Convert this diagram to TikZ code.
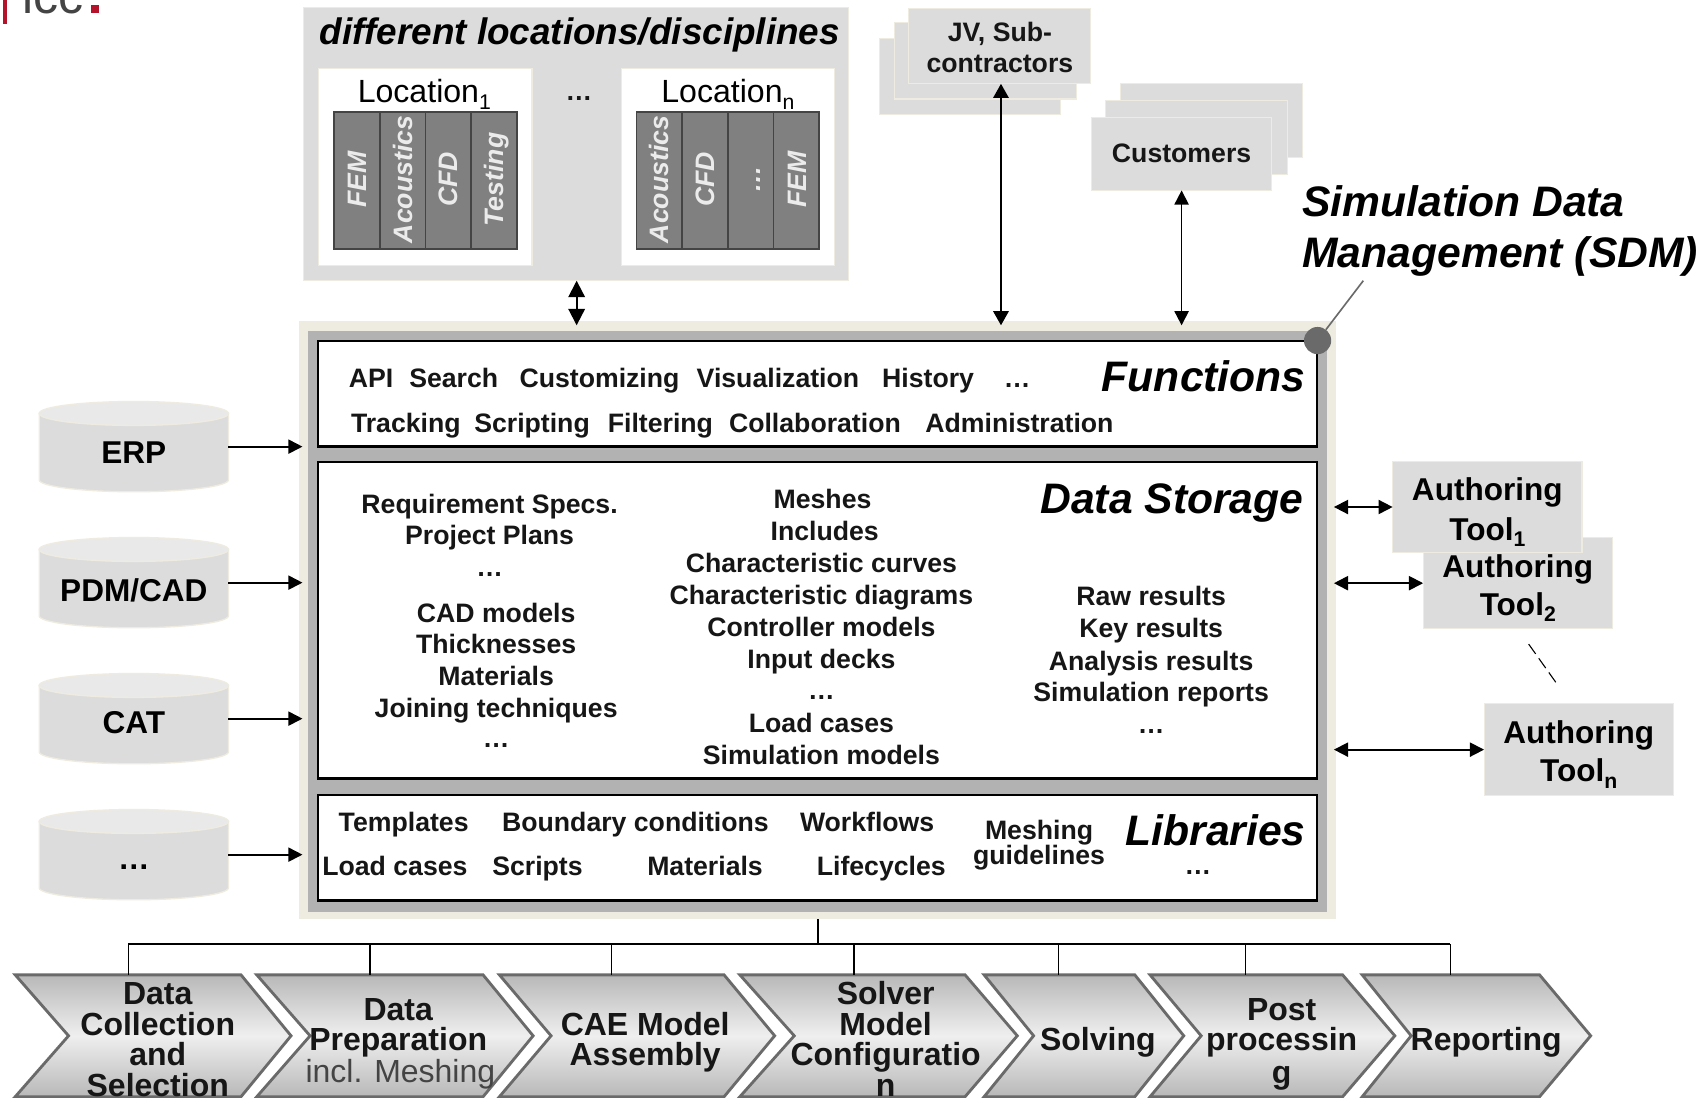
\documentclass[tikz,border=0pt]{standalone}
\usepackage{fontspec}
\setmainfont{Liberation Sans}
\usetikzlibrary{arrows.meta,calc}
\definecolor{beige}{HTML}{EEECE1}
\definecolor{boxgrey}{HTML}{DCDCDC}
\definecolor{lightgrey}{HTML}{E9E9E9}
\definecolor{frame}{HTML}{B2B2B2}
\definecolor{inktext}{HTML}{161616}
\definecolor{colgrey}{HTML}{808080}
\definecolor{coledge}{HTML}{444444}
\definecolor{chevedge}{HTML}{6A6A6A}
\definecolor{chevdark}{HTML}{B8B8B8}
\definecolor{chevlight}{HTML}{EFEFEF}
\definecolor{logored}{HTML}{B5132B}
\definecolor{logogrey}{HTML}{444444}
\newcommand{\subs}[1]{\raisebox{-6pt}{\fontsize{19.5}{19.5}\selectfont #1}}
\tikzset{
  x=1pt,y=-1pt,
  every node/.style={inner sep=0pt,outer sep=0pt,align=center},
  bx/.style={draw=beige,line width=1pt,fill=boxgrey,minimum width=#1},
  tb/.style={font=\fontsize{24.5}{24.5}\selectfont\bfseries,text=inktext,text height=17.6pt,text depth=0pt},
  tm/.style={font=\fontsize{29}{29}\selectfont\bfseries,text=black,text height=20.8pt,text depth=0pt},
  th/.style={font=\fontsize{39.2}{39.2}\selectfont\bfseries\itshape,text=black,text height=28pt,text depth=0pt},
  tl/.style={font=\fontsize{29.5}{29.5}\selectfont,text=black,text height=21pt,text depth=0pt},
  tcol/.style={font=\fontsize{24.5}{24.5}\selectfont\bfseries\itshape,text=white!92!black,text height=17.6pt,text depth=0pt,rotate=90},
  tchev/.style={font=\fontsize{29.4}{29.4}\selectfont\bfseries,text=inktext,text height=21pt,text depth=0pt},
  tchevr/.style={font=\fontsize{29.4}{29.4}\selectfont,text=logogrey,text height=21pt,text depth=0pt},
  arr/.style={-{Triangle[length=13pt,width=13pt]},line width=1.6pt,black},
  dbl/.style={{Triangle[length=13pt,width=13pt]}-{Triangle[length=13pt,width=13pt]},line width=1.6pt,black},
  dblbig/.style={{Triangle[length=15pt,width=15pt]}-{Triangle[length=15pt,width=15pt]},line width=1.8pt,black},
  dblfat/.style={{Triangle[length=13pt,width=14pt]}-{Triangle[length=13pt,width=14pt]},line width=2.2pt,black},
  bus/.style={line width=1.9pt,black},
  colbar/.style={draw=coledge,line width=1.6pt,fill=colgrey},
  chev/.style={draw=chevedge,line width=2.6pt,top color=chevdark,bottom color=chevdark,middle color=chevlight},
  inner box/.style={draw=black,line width=2.2pt,fill=white},
}
\newcommand{\cyl}[4]{% name, top y, label y, label
  \fill[boxgrey,draw=beige,line width=1.2pt] (36,#2+11) -- (36,#2+72) arc[start angle=180,end angle=0,x radius=87,y radius=11] -- (210,#2+11) -- cycle;
  \fill[lightgrey,draw=beige,line width=1.2pt] (123,#2+11) ellipse[x radius=87,y radius=11];
  \node[rectangle,minimum width=174pt,minimum height=83pt] (#1) at (123,#2+41.5) {};
  \node[tm] (#1t) at (123,#3) {#4};
}
\newcommand{\chevron}[6]{% name, left, notch, right, tip, top-connection x
  \path[chev] (#2,896) -- (#4,896) -- (#5,952) -- (#4,1008) -- (#2,1008) -- (#3,952) -- cycle;
  \coordinate (#1) at (#6,896);
}
\begin{document}
\begin{tikzpicture}
\useasboundingbox (0,0) rectangle (1568,1009);
\fill[white] (0,0) rectangle (1568,1009);

% logo
\begin{scope}
\clip (0,0) rectangle (130,25);
\fill[logored] (3,0) rectangle (6,22);
\node[anchor=base west,font=\fontsize{46}{46}\selectfont,text=logogrey] (logo) at (21,12) {icc};
\fill[logored] (84,5) rectangle (91,12);
\end{scope}

% locations
\node[bx=501pt,minimum height=251pt] (topbox) at (529.5,132.5) {};
\node[th,font=\fontsize{33.9}{33.9}\selectfont\bfseries\itshape,text height=25pt] (toptitle) at (533,28) {different locations/disciplines};
\node[rectangle,fill=white,draw=beige,line width=1.2pt,minimum width=196pt,minimum height=181pt] (loc1) at (391,153.5) {};
\node[rectangle,fill=white,draw=beige,line width=1.2pt,minimum width=196pt,minimum height=181pt] (locn) at (669,153.5) {};
\node[tl] (loc1t) at (390,84) {Location\subs{1}};
\node[tl] (locnt) at (669,84) {Location\subs{n}};
\node[tb] (locdots) at (532,84) {…};
\foreach \i/\x/\t in {a/307/FEM,b/349/Acoustics,c/391/CFD,d/433/Testing}{
  \node[colbar,minimum width=42pt,minimum height=126pt] (col\i) at (\x+21,166) {};
  \node[tcol] (col\i t) at (\x+21,165) {\t};
}
\foreach \i/\x/\t in {e/585/Acoustics,f/627/CFD,g/669/…,h/711/FEM}{
  \node[colbar,minimum width=42pt,minimum height=126pt] (col\i) at (\x+21,166) {};
  \node[tcol] (col\i t) at (\x+21,165) {\t};
}

% partners
\foreach \n/\x/\y in {jvc/808/35,jvb/822/21}{
  \node[bx=167pt,minimum height=70pt,anchor=north west] (\n) at (\x,\y) {};
}
\node[bx=167pt,minimum height=69pt,anchor=north west] (jv) at (835,8) {};
\node[tb] (jvt1) at (919,29) {JV, Sub-};
\node[tb] (jvt2) at (919,58) {contractors};
\foreach \n/\x/\y in {cuc/1030/77,cub/1016/92}{
  \node[bx=167pt,minimum height=68pt,anchor=north west] (\n) at (\x,\y) {};
}
\node[bx=166pt,minimum height=67pt,anchor=north west] (cust) at (1003,108) {};
\node[tb] (custt) at (1086,141) {Customers};

% SDM title
\node[th,anchor=west] (sdm1) at (1197,185) {Simulation Data};
\node[th,anchor=west] (sdm2) at (1197,232) {Management (SDM)};

% SDM frame
\node[rectangle,fill=beige,minimum width=953pt,minimum height=550pt] (outer) at (751.5,570) {};
\node[rectangle,fill=frame,minimum width=937pt,minimum height=534pt] (frm) at (751.5,571) {};
\node[inner box,minimum width=918pt,minimum height=97pt] (funcs) at (751.5,362) {};
\node[inner box,minimum width=918pt,minimum height=291pt] (store) at (751.5,570) {};
\node[inner box,minimum width=918pt,minimum height=97pt] (libs) at (751.5,779) {};
\coordinate (sdmtip) at (1253,258);
\node[circle,fill=chevedge,minimum size=25pt] (dot) at (1211,313) {};
\draw[chevedge,line width=1.5pt] (dot) -- (sdmtip);

% Functions
\node[th,anchor=east] (funt) at (1200,346) {Functions};
\foreach \n/\x/\t in {api/341/API,sea/417/Search,cus/551/Customizing,vis/715/Visualization,his/853/History,fd/935/…}{
  \node[tb] (\n) at (\x,347) {\t};
}
\foreach \n/\x/\t in {tra/373/Tracking,scr/489/Scripting,fil/607/Filtering,col/749/Collaboration,adm/937/Administration}{
  \node[tb] (\n) at (\x,389) {\t};
}

% Data storage
\node[th,anchor=east] (datat) at (1198,458) {Data Storage};
\foreach \n/\x/\y/\t in {d1/450/463/Requirement Specs.,d2/450/492/Project Plans,d3/450/521/…,d4/456/563/CAD models,d5/456/592/Thicknesses,d6/456/621/Materials,d7/456/651/Joining techniques,d8/456/678/…,
  e1/756/459/Meshes,e2/758/488/Includes,e3/755/517/Characteristic curves,e4/755/547/Characteristic diagrams,e5/755/576/Controller models,e6/755/606/Input decks,e7/755/634/…,e8/755/664/Load cases,e9/755/694/Simulation models,
  f1/1058/548/Raw results,f2/1058/577/Key results,f3/1058/607/Analysis results,f4/1058/636/Simulation reports,f5/1058/665/…}{
  \node[tb] (\n) at (\x,\y) {\t};
}

% Libraries
\node[th,anchor=east] (libt) at (1200,763) {Libraries};
\foreach \n/\x/\y/\t in {l1/371/755/Templates,l2/584/755/Boundary conditions,l3/797/755/Workflows,l4/955/763/Meshing,l5/955/786/guidelines,
  l6/363/796/Load cases,l7/494/796/Scripts,l8/648/796/Materials,l9/810/796/Lifecycles,l10/1101/795/…}{
  \node[tb] (\n) at (\x,\y) {\t};
}

% Cylinders
\cyl{erp}{369}{416}{ERP}
\cyl{pdm}{494}{542}{PDM/CAD}
\cyl{cat}{619}{664}{CAT}
\cyl{dts}{744}{789}{…}
\draw[arr,shorten >=-3pt] (erp.east) -- (erp.east -| outer.west);
\draw[arr,shorten >=-3pt] (pdm.east) -- (pdm.east -| outer.west);
\draw[arr,shorten >=-3pt] (cat.east) -- (cat.east -| outer.west);
\draw[arr,shorten >=-3pt] (dts.east) -- (dts.east -| outer.west);

% Authoring tools
\node[bx=174pt,minimum height=84pt] (t2) at (1395,536) {};
\node[tm] (t2a) at (1395,520) {Authoring};
\node[tm] (t2b) at (1395,555) {Tool\subs{2}};
\node[bx=174pt,minimum height=84pt] (t1) at (1367,466) {};
\node[tm] (t1a) at (1367,450) {Authoring};
\node[tm] (t1b) at (1367,486) {Tool\subs{1}};
\node[bx=174pt,minimum height=84pt] (tn) at (1451,689) {};
\node[tm] (tna) at (1451,673) {Authoring};
\node[tm] (tnb) at (1451,708) {Tool\subs{n}};
\draw[dbl,shorten <=-2pt] (t1.west -| outer.east) -- (t1.west);
\draw[dbl,shorten <=-2pt] (t2.west -| outer.east) -- (t2.west);
\draw[dbl,shorten <=-2pt] (tn.west -| outer.east) -- (tn.west);
\coordinate (da) at (1405,592);
\coordinate (db) at (1432,630);
\draw[black,line width=1pt,dashed,dash pattern=on 11pt off 5pt] (da) -- (db);

% top arrows
\draw[dblbig,shorten >=-4pt] (530,0 |- topbox.south) -- (530,0 |- outer.north);
\draw[dblfat,shorten >=-4pt] (920,0 |- jv.south) -- (920,0 |- outer.north);
\draw[dbl,shorten >=-4pt] (1086,0 |- cust.south) -- (1086,0 |- outer.north);

% Chevrons
\chevron{c1}{14}{63}{221.5}{267.5}{118}
\chevron{c2}{236}{285}{444}{490}{340}
\chevron{c3}{459}{506.5}{665.5}{712}{562}
\chevron{c4}{680}{730}{887}{935}{785}
\chevron{c5}{904.5}{950}{1043}{1088}{973}
\chevron{c6}{1057}{1104}{1234}{1282}{1145}
\chevron{c7}{1252}{1297}{1415}{1462}{1333}

\coordinate (busc) at (751.5,868);
\draw[bus] (outer.south) -- (busc);
\draw[bus] (c1 |- busc) -- (c7 |- busc);
\foreach \c in {c1,c2,c3,c4,c5,c6,c7}{
  \draw[black,line width=1.2pt] (\c |- busc) -- (\c);
}

\foreach \n/\x/\y/\t in {a1/145/913/Data,a2/145/941/Collection,a3/145/969/and,a4/145/997/Selection,
  b1/366/927/Data,b2/366/955/Preparation,
  g1/593/941/CAE Model,g2/593/969/Assembly,
  h1/814/913/Solver,h2/814/941/Model,h3/814/969/Configuratio,h4/814/997/n,
  i1/1009/955/Solving,
  j1/1178/927/Post,j2/1178/955/processin,j3/1178/985/g,
  k1/1366/955/Reporting}{
  \node[tchev] (\n) at (\x,\y) {\t};
}
\node[tchevr] (b3) at (368,984) {incl. Meshing};
\end{tikzpicture}
\end{document}
